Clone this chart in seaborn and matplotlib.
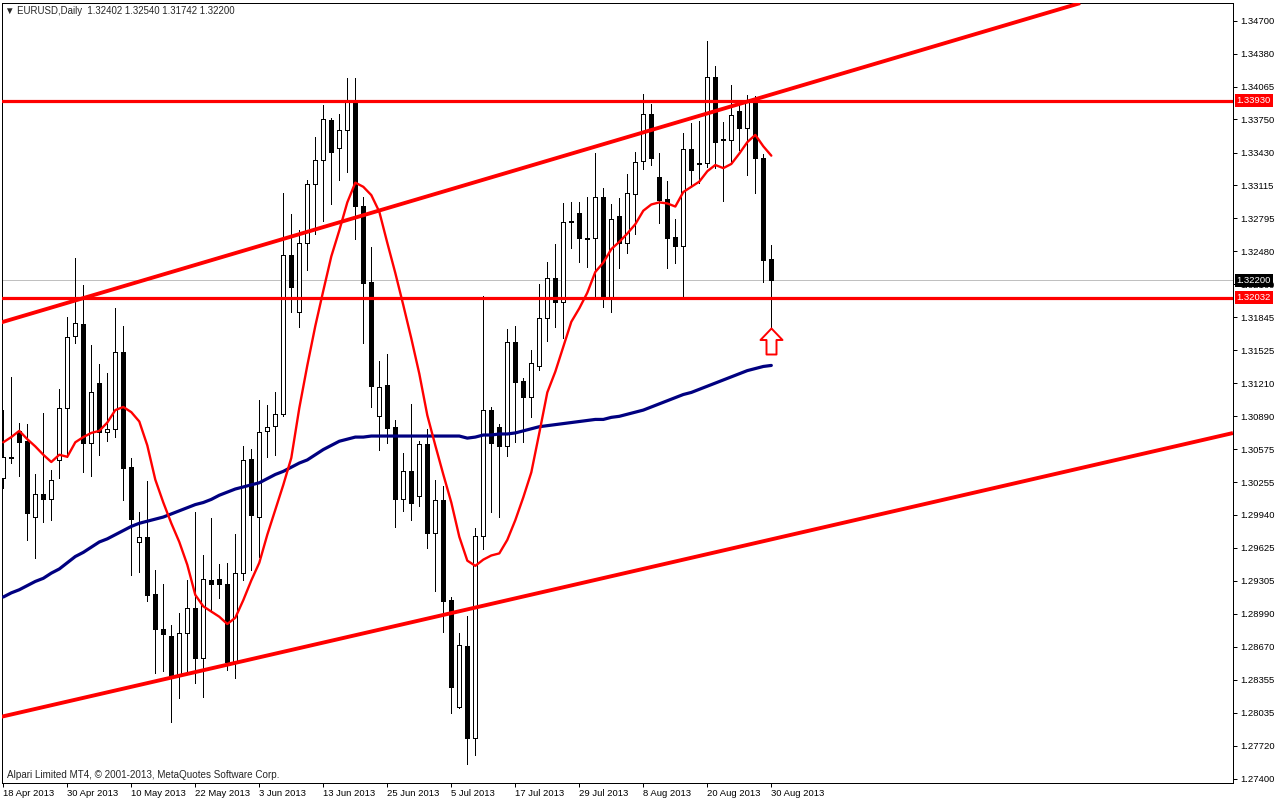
import numpy as np
import pandas as pd
import matplotlib
matplotlib.use("Agg")
import matplotlib.pyplot as plt
import matplotlib.transforms as mtransforms
from matplotlib.path import Path
from matplotlib.markers import MarkerStyle
import seaborn as sns

# ---------------- data ----------------
symbol = "EURUSD,Daily"
date_labels = ["18 Apr 2013", "30 Apr 2013", "10 May 2013", "22 May 2013", "3 Jun 2013",
               "13 Jun 2013", "25 Jun 2013", "5 Jul 2013", "17 Jul 2013", "29 Jul 2013",
               "8 Aug 2013", "20 Aug 2013", "30 Aug 2013"]
label_every = 8

open_ = [1.3030, 1.3049, 1.3075, 1.3065, 1.2992, 1.3014, 1.3009, 1.3047, 1.3097, 1.3166,
         1.3178, 1.3063, 1.3121, 1.3074, 1.3077, 1.3151, 1.3040, 1.2968, 1.2973, 1.2918,
         1.2884, 1.2877, 1.2840, 1.2880, 1.2904, 1.2856, 1.2931, 1.2932, 1.2928, 1.2852,
         1.2938, 1.3048, 1.2992, 1.3075, 1.3080, 1.3091, 1.3244, 1.3189, 1.3256, 1.3313,
         1.3336, 1.3374, 1.3347, 1.3365, 1.3392, 1.3292, 1.3218, 1.3089, 1.3119, 1.3079,
         1.3009, 1.3036, 1.3012, 1.3062, 1.2977, 1.3008, 1.2912, 1.2809, 1.2868, 1.2779,
         1.2974, 1.3095, 1.3079, 1.3060, 1.3161, 1.3123, 1.3108, 1.3137, 1.3184, 1.3222,
         1.3199, 1.3276, 1.3285, 1.3261, 1.3261, 1.3300, 1.3204, 1.3282, 1.3256, 1.3303,
         1.3335, 1.3380, 1.3319, 1.3298, 1.3262, 1.3253, 1.3346, 1.3332, 1.3333, 1.3416,
         1.3356, 1.3355, 1.3383, 1.3367, 1.3395, 1.3338, 1.32402]
high = [1.3095, 1.3127, 1.3083, 1.3082, 1.3033, 1.3092, 1.3037, 1.3115, 1.3185, 1.3241,
        1.3215, 1.3158, 1.3139, 1.3131, 1.3193, 1.3176, 1.3049, 1.2997, 1.3027, 1.2941,
        1.2928, 1.2888, 1.2900, 1.2931, 1.2997, 1.2955, 1.2991, 1.2947, 1.2948, 1.2976,
        1.3060, 1.3058, 1.3105, 1.3100, 1.3112, 1.3304, 1.3284, 1.3268, 1.3317, 1.3358,
        1.3389, 1.3376, 1.3380, 1.3415, 1.3415, 1.3300, 1.3252, 1.3142, 1.3149, 1.3085,
        1.3054, 1.3101, 1.3065, 1.3077, 1.3028, 1.3022, 1.2915, 1.2880, 1.2897, 1.2981,
        1.3205, 1.3098, 1.3082, 1.3173, 1.3176, 1.3126, 1.3153, 1.3216, 1.3238, 1.3255,
        1.3294, 1.3295, 1.3295, 1.3300, 1.3343, 1.3309, 1.3293, 1.3299, 1.3322, 1.3344,
        1.3399, 1.3390, 1.3343, 1.3316, 1.3279, 1.3362, 1.3371, 1.3373, 1.3450, 1.3426,
        1.3372, 1.3408, 1.3390, 1.3398, 1.3397, 1.3342, 1.32540]
low = [1.3020, 1.3044, 1.3032, 1.2970, 1.2953, 1.2987, 1.2989, 1.3030, 1.3050, 1.3160,
       1.3035, 1.3032, 1.3052, 1.3065, 1.3069, 1.3008, 1.2936, 1.2939, 1.2911, 1.2842,
       1.2844, 1.2795, 1.2818, 1.2842, 1.2832, 1.2819, 1.2901, 1.2914, 1.2845, 1.2837,
       1.2931, 1.2941, 1.2954, 1.3050, 1.3052, 1.3089, 1.3189, 1.3175, 1.3230, 1.3265,
       1.3277, 1.3293, 1.3317, 1.3324, 1.3260, 1.3160, 1.3098, 1.3057, 1.3063, 1.2982,
       1.2998, 1.2989, 1.3003, 1.2962, 1.2921, 1.2881, 1.2803, 1.2808, 1.2754, 1.2763,
       1.2961, 1.2997, 1.2992, 1.3051, 1.3064, 1.3064, 1.3088, 1.3134, 1.3162, 1.3175,
       1.3164, 1.3251, 1.3238, 1.3233, 1.3204, 1.3194, 1.3189, 1.3232, 1.3246, 1.3265,
       1.3327, 1.3331, 1.3275, 1.3232, 1.3237, 1.3204, 1.3310, 1.3314, 1.3329, 1.3328,
       1.3296, 1.3333, 1.3345, 1.3321, 1.3304, 1.3218, 1.31742]
close = [1.3050, 1.3050, 1.3064, 1.2996, 1.3014, 1.3009, 1.3028, 1.3097, 1.3165, 1.3179,
         1.3063, 1.3112, 1.3074, 1.3077, 1.3151, 1.3039, 1.2990, 1.2973, 1.2917, 1.2884,
         1.2879, 1.2838, 1.2880, 1.2904, 1.2856, 1.2932, 1.2928, 1.2928, 1.2852, 1.2938,
         1.3047, 1.2994, 1.3074, 1.3079, 1.3091, 1.3244, 1.3214, 1.3256, 1.3313, 1.3336,
         1.3375, 1.3344, 1.3365, 1.3392, 1.3292, 1.3217, 1.3118, 1.3117, 1.3078, 1.3009,
         1.3036, 1.3006, 1.3062, 1.2977, 1.3008, 1.2911, 1.2828, 1.2869, 1.2779, 1.2974,
         1.3095, 1.3063, 1.3060, 1.3161, 1.3122, 1.3108, 1.3140, 1.3184, 1.3222, 1.3199,
         1.3276, 1.3277, 1.3261, 1.3260, 1.3300, 1.3204, 1.3279, 1.3256, 1.3304, 1.3334,
         1.3380, 1.3338, 1.3297, 1.3261, 1.3253, 1.3346, 1.3326, 1.3333, 1.3416, 1.3353,
         1.3355, 1.3379, 1.3367, 1.3393, 1.3338, 1.3240, 1.32200]
ma_red = [1.3064, 1.3069, 1.3075, 1.3067, 1.3060, 1.3052, 1.3045, 1.3052, 1.3050, 1.3064,
          1.3069, 1.3073, 1.3075, 1.3083, 1.3095, 1.3098, 1.3093, 1.3084, 1.3061, 1.3028,
          1.3006, 1.2986, 1.2968, 1.2946, 1.2917, 1.2906, 1.2901, 1.2896, 1.2889, 1.2895,
          1.2912, 1.2931, 1.2948, 1.2975, 1.2999, 1.3023, 1.3049, 1.3097, 1.3138, 1.3176,
          1.3210, 1.3243, 1.3268, 1.3295, 1.3314, 1.3310, 1.3302, 1.3286, 1.3256, 1.3227,
          1.3196, 1.3164, 1.3130, 1.3090, 1.3061, 1.3033, 1.3006, 1.2973, 1.2950, 1.2945,
          1.2951, 1.2955, 1.2957, 1.2970, 1.2989, 1.3011, 1.3035, 1.3073, 1.3112, 1.3132,
          1.3156, 1.3180, 1.3193, 1.3208, 1.3228, 1.3237, 1.3250, 1.3257, 1.3265, 1.3274,
          1.3287, 1.3293, 1.3295, 1.3294, 1.3291, 1.3305, 1.3310, 1.3315, 1.3325, 1.3331,
          1.3328, 1.3332, 1.3342, 1.3353, 1.3360, 1.3349, 1.3340]
ma_blue = [1.2915, 1.2919, 1.2922, 1.2926, 1.2930, 1.2933, 1.2938, 1.2942, 1.2948, 1.2954,
           1.2958, 1.2963, 1.2968, 1.2971, 1.2975, 1.2979, 1.2983, 1.2986, 1.2988, 1.2990,
           1.2992, 1.2995, 1.2998, 1.3001, 1.3004, 1.3006, 1.3009, 1.3013, 1.3016, 1.3019,
           1.3021, 1.3023, 1.3025, 1.3029, 1.3033, 1.3036, 1.3040, 1.3044, 1.3047, 1.3052,
           1.3057, 1.3061, 1.3065, 1.3067, 1.3069, 1.3069, 1.3070, 1.3070, 1.3070, 1.3070,
           1.3070, 1.3070, 1.3070, 1.3070, 1.3070, 1.3070, 1.3070, 1.3070, 1.3068, 1.3069,
           1.3071, 1.3071, 1.3072, 1.3072, 1.3073, 1.3075, 1.3077, 1.3079, 1.3080, 1.3081,
           1.3082, 1.3083, 1.3084, 1.3085, 1.3086, 1.3086, 1.3088, 1.3089, 1.3091, 1.3093,
           1.3095, 1.3098, 1.3101, 1.3104, 1.3107, 1.3110, 1.3112, 1.3115, 1.3118, 1.3121,
           1.3124, 1.3127, 1.3130, 1.3133, 1.3135, 1.3137, 1.3138]

h_levels = [1.33930, 1.32032]
bid = 1.32200
# trend line anchors: (bar index, price)
trend_upper = [(-0.41, 1.31791), (134.6, 1.34869)]
trend_lower = [(-0.41, 1.27994), (153.7, 1.30729)]
ytick_labels = ["1.34700", "1.34380", "1.34065", "1.33750", "1.33430", "1.33115", "1.32795",
                "1.32480", "1.32160", "1.31845", "1.31525", "1.31210", "1.30890", "1.30575",
                "1.30255", "1.29940", "1.29625", "1.29305", "1.28990", "1.28670", "1.28355",
                "1.28035", "1.27720", "1.27400"]
copyright_txt = "Alpari Limited MT4, \u00a9 2001-2013, MetaQuotes Software Corp."

# ---------------- style ----------------
sns.set_style("white")
plt.rcParams['font.family'] = ['Liberation Sans', 'DejaVu Sans']
RED = "#FF0000"
NAVY = "#000080"
FS = 6.8
PX = 0.72  # one pixel in points at dpi 100

W, H = 1276, 801
fig = plt.figure(figsize=(W / 100, H / 100), dpi=100)
ax = fig.add_axes([2 / W, 18 / H, 1231 / W, 780 / H])

n = len(open_)
df = pd.DataFrame(dict(bar=np.arange(n), open=open_, high=high, low=low, close=close,
                       ma_red=ma_red, ma_blue=ma_blue))

# bid line
ax.axhline(bid, color="#C0C0C0", lw=PX, zorder=1)

# candles
ax.vlines(df.bar, df.low, df.high, colors="black", linewidth=PX, antialiased=False, zorder=2)
bull = (df.close >= df.open).values
ax.bar(df.bar, (df.close - df.open).abs(), bottom=np.minimum(df.open, df.close), width=0.5,
       color=np.where(bull, "white", "black"), edgecolor="black", linewidth=PX,
       antialiased=False, zorder=3)

# moving averages
sns.lineplot(data=df, x="bar", y="ma_blue", color=NAVY, linewidth=2.3, ax=ax, zorder=4,
             legend=False)
sns.lineplot(data=df, x="bar", y="ma_red", color=RED, linewidth=1.7, ax=ax, zorder=5,
             legend=False)

# horizontal levels
for lv in h_levels:
    ax.axhline(lv, color=RED, lw=2.3, zorder=6)

# trend lines
for tl in (trend_upper, trend_lower):
    xs, ys = zip(*tl)
    ax.plot(xs, ys, color=RED, lw=2.8, zorder=6, solid_capstyle="butt")

# up arrow below last candle
arrow_verts = [(0, 0), (11, -11.5), (5, -11.5), (5, -26), (-5, -26), (-5, -11.5),
               (-11, -11.5), (0, 0)]
arrow = MarkerStyle(Path(arrow_verts, closed=True))
ax.plot([df.bar.iloc[-1]], [df.low.iloc[-1]], marker=arrow, ms=2 * 26 * PX,
        mfc="white", mec=RED, mew=1.4, ls="none", zorder=7)

# axes
ax.set_xlim(-0.1625, 153.71)
ax.set_ylim(1.27359, 1.34870)
ax.set_xlabel("")
ax.set_ylabel("")
ax.yaxis.tick_right()
ax.set_yticks([float(t) for t in ytick_labels])
ax.set_yticklabels(ytick_labels)
ax.set_xticks(list(range(0, n, label_every)))
ax.set_xticklabels(date_labels, ha="left")
ax.tick_params(axis="y", direction="out", length=3, width=PX, pad=2.5, labelsize=FS,
               colors="black", right=True, left=False)
ax.tick_params(axis="x", direction="out", length=3, width=PX, pad=1.5, labelsize=FS,
               colors="black", bottom=True)
for sp in ax.spines.values():
    sp.set_visible(True)
    sp.set_color("black")
    sp.set_linewidth(PX)

# price boxes on right axis
blend = mtransforms.blended_transform_factory(ax.transAxes, ax.transData)
for price, col in [(h_levels[0], RED), (bid, "black"), (h_levels[1], RED)]:
    ax.text(1.0030, price, f"{price:.5f}", transform=blend, color="white", fontsize=FS,
            ha="left", va="center", zorder=20, clip_on=False,
            bbox=dict(boxstyle="square,pad=0.22", fc=col, ec="none"))

# title and copyright
title = f"\u25BC {symbol}  {open_[-1]:.5f} {high[-1]:.5f} {low[-1]:.5f} {close[-1]:.5f}"
fig.text(5 / W, 1 - 11 / H, title, fontsize=6.9, va="center", ha="left")
fig.text(7 / W, 1 - 775.5 / H, copyright_txt, fontsize=7.1, va="center", ha="left")

fig.savefig("out.png", dpi=100, facecolor="white")
